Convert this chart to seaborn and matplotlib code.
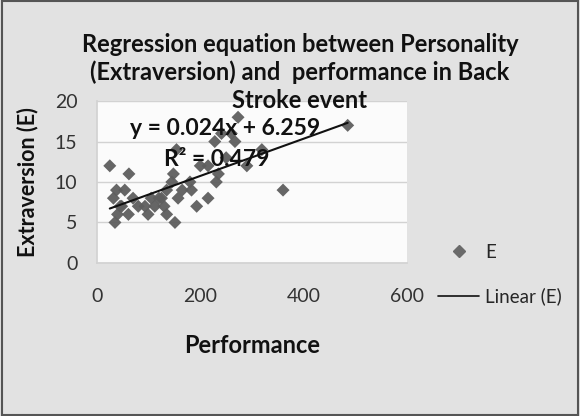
import numpy as np
import pandas as pd
import matplotlib
matplotlib.use("Agg")
import matplotlib.pyplot as plt
import seaborn as sns
from matplotlib.lines import Line2D

# Data
performance = [25, 62, 38, 54, 32, 48, 35, 61, 40, 93, 99, 112, 135, 151, 148,
               135, 157, 125, 154, 273, 260, 241, 267, 228, 215, 235, 231, 215,
               193, 183, 319, 360, 485, 70, 80, 120, 145, 165, 200, 250, 290,
               180, 105, 45, 130]
extraversion = [12, 11, 9, 9, 8, 7, 5, 6, 6, 7, 6, 7, 6, 5, 11,
                9, 8, 8, 14, 18, 16, 16, 15, 15, 12, 11, 10, 8,
                7, 9, 14, 9, 17, 8, 7, 8, 10, 9, 12, 13, 12,
                10, 8, 7, 7]
x_ticks = [0, 200, 400, 600]
y_ticks = [0, 5, 10, 15, 20]
title_text = "Regression equation between Personality\n(Extraversion) and  performance in Back\nStroke event"
equation_text = "y = 0.024x + 6.259"
r2_text = "R² = 0.479"

df = pd.DataFrame({"Performance": performance, "E": extraversion})

sns.set_theme(style="whitegrid")
plt.rcParams["font.family"] = ["Lato", "DejaVu Sans"]

fig = plt.figure(figsize=(5.8, 4.16), dpi=100, facecolor="#e2e2e2")
ax = fig.add_axes([0.167, 0.368, 0.535, 0.389])
ax.set_facecolor("#fbfbfb")

sns.regplot(data=df, x="Performance", y="E", ax=ax, ci=None, marker="D",
            scatter_kws=dict(s=44, color="#5e5e5e", edgecolor="none", alpha=0.95),
            line_kws=dict(color="#111111", linewidth=1.5))

ax.set_xlim(0, 600)
ax.set_ylim(0, 20)
ax.set_xticks(x_ticks)
ax.set_yticks(y_ticks)
ax.tick_params(axis="y", labelsize=14, colors="#333333", length=0, pad=14)
ax.tick_params(axis="x", labelsize=14, colors="#333333", length=0, pad=18)
ax.grid(axis="y", color="#d2d2d2", linewidth=1.0)
ax.grid(axis="x", visible=False)
for s in ["top", "right"]:
    ax.spines[s].set_visible(False)
for s in ["left", "bottom"]:
    ax.spines[s].set_color("#d2d2d2")
ax.set_xlabel("Performance", fontsize=17, fontweight="bold", color="#111111", labelpad=21)
ax.set_ylabel("Extraversion (E)", fontsize=15.5, fontweight="bold", color="#111111", labelpad=12)

fig.text(0.517, 0.826, title_text, ha="center", va="center", fontsize=17,
         fontweight="bold", color="#111111", linespacing=1.25)

ax.text(247, 16.6, equation_text, ha="center", va="center", fontsize=16.5,
        fontweight="bold", color="#111111")
ax.text(232, 12.8, r2_text, ha="center", va="center", fontsize=16.5,
        fontweight="bold", color="#111111")

handles = [Line2D([], [], marker="D", linestyle="none", color="#6a6a6a", markersize=6.5),
           Line2D([], [], color="#111111", linewidth=1.2)]
fig.legend(handles, ["E", "Linear (E)"], loc="center left",
           bbox_to_anchor=(0.726, 0.34), frameon=False, fontsize=13.5,
           labelspacing=1.4, handlelength=2.2, handletextpad=0.3)

border = plt.Rectangle((0.003, 0.003), 0.994, 0.994, transform=fig.transFigure,
                       fill=False, edgecolor="#555555", linewidth=1.5)
fig.add_artist(border)

fig.savefig("out.png", dpi=100, facecolor=fig.get_facecolor())
